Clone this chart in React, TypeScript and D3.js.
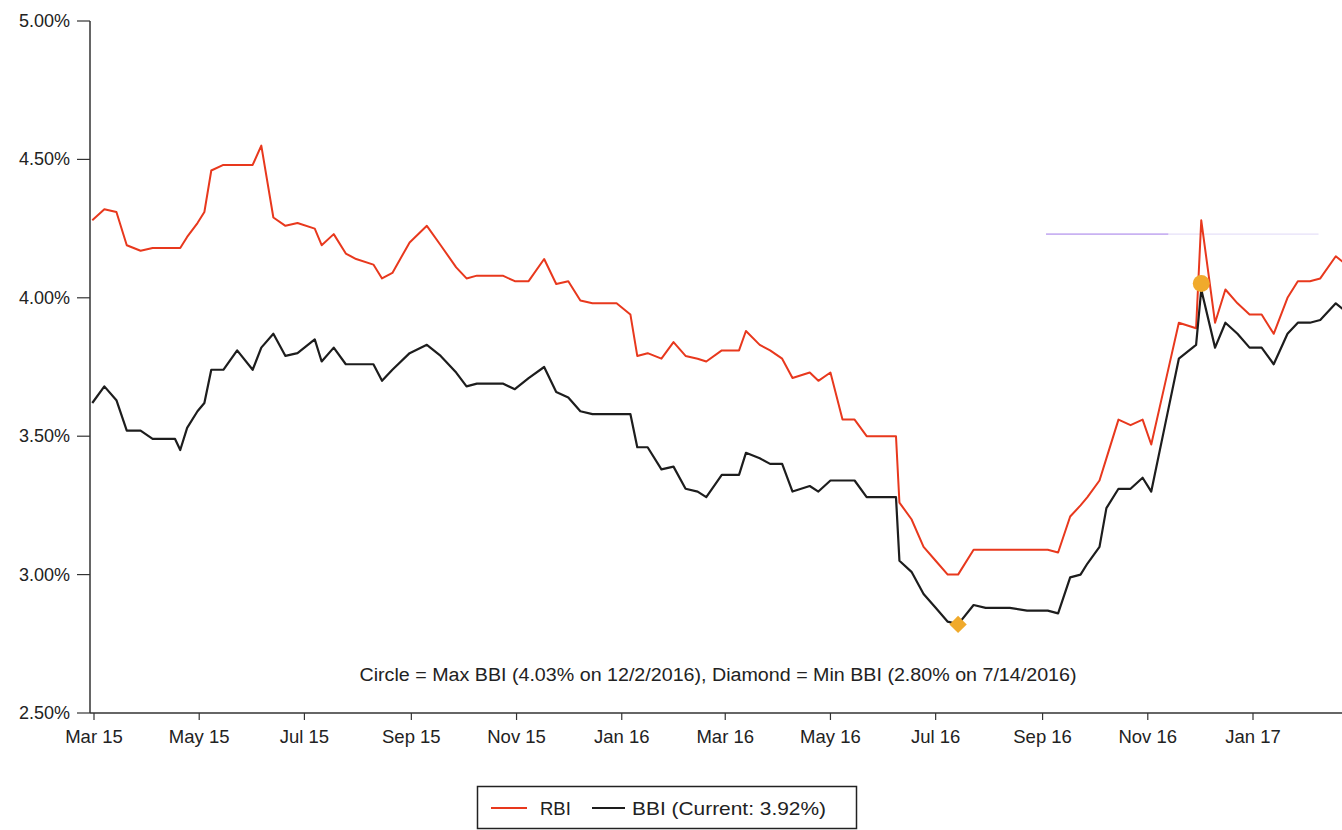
import React from "react";
import * as d3 from "d3";

// ---- data ----
const dates = [
  "2015-02-28","2015-03-07","2015-03-14","2015-03-20","2015-03-28","2015-04-04","2015-04-11","2015-04-17","2015-04-20","2015-04-24",
  "2015-04-30","2015-05-04","2015-05-08","2015-05-15","2015-05-23","2015-06-01","2015-06-06","2015-06-13","2015-06-20","2015-06-27",
  "2015-07-07","2015-07-11","2015-07-18","2015-07-25","2015-07-31","2015-08-10","2015-08-15","2015-08-21","2015-08-31","2015-09-10",
  "2015-09-18","2015-09-27","2015-10-03","2015-10-09","2015-10-24","2015-10-31","2015-11-08","2015-11-17","2015-11-24","2015-12-01",
  "2015-12-08","2015-12-15","2015-12-22","2015-12-29","2016-01-06","2016-01-10","2016-01-16","2016-01-24","2016-01-31","2016-02-07",
  "2016-02-14","2016-02-19","2016-02-28","2016-03-09","2016-03-13","2016-03-21","2016-03-27","2016-04-03","2016-04-09","2016-04-19",
  "2016-04-24","2016-05-01","2016-05-08","2016-05-15","2016-05-22","2016-05-30","2016-06-08","2016-06-10","2016-06-17","2016-06-24",
  "2016-07-01","2016-07-08","2016-07-14","2016-07-23","2016-07-30","2016-08-06","2016-08-13","2016-08-23","2016-09-04","2016-09-10",
  "2016-09-17","2016-09-23","2016-09-27","2016-10-04","2016-10-08","2016-10-15","2016-10-22","2016-10-29","2016-11-03","2016-11-11",
  "2016-11-19","2016-11-29","2016-12-02","2016-12-10","2016-12-16","2016-12-23","2016-12-30","2017-01-06","2017-01-13","2017-01-21",
  "2017-01-27","2017-02-03","2017-02-09","2017-02-18","2017-02-22",
];

const rbi = [
  4.28,4.32,4.31,4.19,4.17,4.18,4.18,4.18,4.18,4.22,
  4.27,4.31,4.46,4.48,4.48,4.48,4.55,4.29,4.26,4.27,
  4.25,4.19,4.23,4.16,4.14,4.12,4.07,4.09,4.20,4.26,
  4.19,4.11,4.07,4.08,4.08,4.06,4.06,4.14,4.05,4.06,
  3.99,3.98,3.98,3.98,3.94,3.79,3.80,3.78,3.84,3.79,
  3.78,3.77,3.81,3.81,3.88,3.83,3.81,3.78,3.71,3.73,
  3.70,3.73,3.56,3.56,3.50,3.50,3.50,3.26,3.20,3.10,
  3.05,3.00,3.00,3.09,3.09,3.09,3.09,3.09,3.09,3.08,
  3.21,3.25,3.28,3.34,3.42,3.56,3.54,3.56,3.47,3.69,
  3.91,3.89,4.28,3.91,4.03,3.98,3.94,3.94,3.87,4.00,
  4.06,4.06,4.07,4.15,4.13,
];

const bbi = [
  3.62,3.68,3.63,3.52,3.52,3.49,3.49,3.49,3.45,3.53,
  3.59,3.62,3.74,3.74,3.81,3.74,3.82,3.87,3.79,3.80,
  3.85,3.77,3.82,3.76,3.76,3.76,3.70,3.74,3.80,3.83,
  3.79,3.73,3.68,3.69,3.69,3.67,3.71,3.75,3.66,3.64,
  3.59,3.58,3.58,3.58,3.58,3.46,3.46,3.38,3.39,3.31,
  3.30,3.28,3.36,3.36,3.44,3.42,3.40,3.40,3.30,3.32,
  3.30,3.34,3.34,3.34,3.28,3.28,3.28,3.05,3.01,2.93,
  2.88,2.83,2.82,2.89,2.88,2.88,2.88,2.87,2.87,2.86,
  2.99,3.00,3.04,3.10,3.24,3.31,3.31,3.35,3.30,3.54,
  3.78,3.83,4.03,3.82,3.91,3.87,3.82,3.82,3.76,3.87,
  3.91,3.91,3.92,3.98,3.96,
];

const xTickDates = ["2015-03-01","2015-05-01","2015-07-01","2015-09-01","2015-11-01","2016-01-01","2016-03-01","2016-05-01","2016-07-01","2016-09-01","2016-11-01","2017-01-01"];
const xTickLabels = ["Mar 15","May 15","Jul 15","Sep 15","Nov 15","Jan 16","Mar 16","May 16","Jul 16","Sep 16","Nov 16","Jan 17"];
const yTicks = [2.5, 3.0, 3.5, 4.0, 4.5, 5.0];

const maxBBI = { date: "2016-12-02", value: 4.03 };
const minBBI = { date: "2016-07-14", value: 2.82 };
const caption = "Circle = Max BBI (4.03% on 12/2/2016), Diamond = Min BBI (2.80% on 7/14/2016)";
const legendLabels = ["RBI", "BBI (Current: 3.92%)"];

// faint scan mark (horizontal lavender stroke)
const markLevel = 4.23;
const markStrong = ["2016-09-03", "2016-11-13"];
const markFaint = ["2016-11-13", "2017-02-08"];

const W = 1342, H = 830;
const FONT = "'Liberation Sans', Arial, Helvetica, sans-serif";
const RED = "#e8381d";
const BLACK = "#1d1d1d";
const GOLD = "#f0aa2c";

export default function App() {
  const parse = d3.timeParse("%Y-%m-%d");
  const x = d3.scaleTime()
    .domain([parse("2015-03-01")!, parse("2017-01-01")!])
    .range([94, 1253]);
  const y = d3.scaleLinear().domain([2.5, 5.0]).range([713, 21]);

  const pts = dates.map((d, i) => ({ d: parse(d)!, r: rbi[i], b: bbi[i] }));
  const lineR = d3.line<any>().x((p) => x(p.d)).y((p) => y(p.r))(pts) || "";
  const lineB = d3.line<any>().x((p) => x(p.d)).y((p) => y(p.b))(pts) || "";

  const axisY0 = y(2.5);
  const axisX0 = 90;

  const cx = x(parse(maxBBI.date)!);
  const cy = y(maxBBI.value);
  const dx = x(parse(minBBI.date)!);
  const dy = y(minBBI.value);
  const diamond = d3.symbol().type(d3.symbolSquare).size(150)() || "";

  return (
    <svg
      width={W}
      height={H}
      style={{ position: "absolute", left: 0, top: 0, background: "#fff" }}
      fontFamily={FONT}
    >
      <rect x={0} y={0} width={W} height={H} fill="#fff" />

      {/* scan mark */}
      <line x1={x(parse(markStrong[0])!)} x2={x(parse(markStrong[1])!)} y1={y(markLevel)} y2={y(markLevel)} stroke="#c9b2f2" strokeWidth={1.6} />
      <line x1={x(parse(markFaint[0])!)} x2={x(parse(markFaint[1])!)} y1={y(markLevel)} y2={y(markLevel)} stroke="#e6e0f8" strokeWidth={1.4} />

      {/* y axis */}
      <line x1={axisX0} x2={axisX0} y1={y(5.0)} y2={axisY0} stroke="#333" strokeWidth={1.5} />
      {yTicks.map((t) => (
        <g key={t}>
          <line x1={77} x2={axisX0} y1={y(t)} y2={y(t)} stroke="#333" strokeWidth={1.2} />
          <text x={70} y={y(t) + 6} textAnchor="end" fontSize={18} fill="#222">
            {t.toFixed(2) + "%"}
          </text>
        </g>
      ))}

      {/* x axis */}
      <line x1={axisX0} x2={W} y1={axisY0} y2={axisY0} stroke="#333" strokeWidth={1.5} />
      {xTickDates.map((d, i) => {
        const xx = x(parse(d)!);
        return (
          <g key={d}>
            <line x1={xx} x2={xx} y1={axisY0} y2={axisY0 + 7} stroke="#333" strokeWidth={1.2} />
            <text x={xx} y={743} textAnchor="middle" fontSize={18.5} fill="#222">
              {xTickLabels[i]}
            </text>
          </g>
        );
      })}

      {/* series */}
      <path d={lineR} fill="none" stroke={RED} strokeWidth={2} strokeLinejoin="round" />
      <path d={lineB} fill="none" stroke={BLACK} strokeWidth={2.2} strokeLinejoin="round" />

      {/* markers */}
      <circle cx={cx} cy={cy - 6} r={8.5} fill={GOLD} />
      <path d={diamond} transform={`translate(${dx},${dy}) rotate(45)`} fill={GOLD} />

      {/* caption */}
      <text x={718} y={681} textAnchor="middle" fontSize={18} fill="#222" textLength={717} lengthAdjust="spacingAndGlyphs">
        {caption}
      </text>

      {/* legend */}
      <rect x={477.5} y={786.5} width={379} height={42} fill="none" stroke="#222" strokeWidth={1.5} />
      <line x1={491} x2={527} y1={808} y2={808} stroke={RED} strokeWidth={2} />
      <text x={540} y={815} fontSize={18.5} fill="#222">{legendLabels[0]}</text>
      <line x1={592} x2={625} y1={808} y2={808} stroke={BLACK} strokeWidth={2.2} />
      <text x={632} y={815} fontSize={18.5} fill="#222" textLength={194} lengthAdjust="spacingAndGlyphs">{legendLabels[1]}</text>
    </svg>
  );
}
